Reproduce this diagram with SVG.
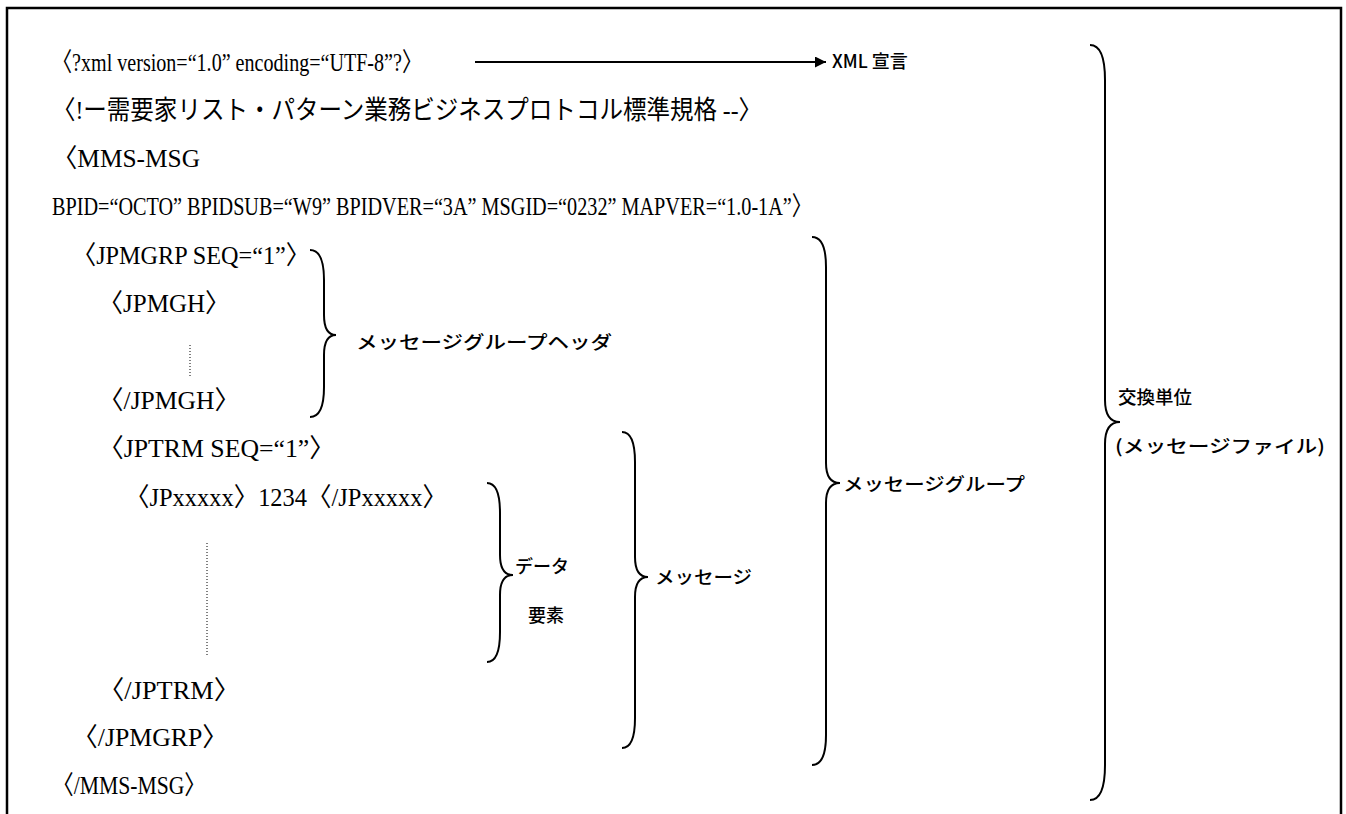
<svg xmlns="http://www.w3.org/2000/svg" width="1346" height="814" viewBox="0 0 1346 814">
<defs>
<style>
.code{font-family:"Liberation Serif","Noto Sans CJK JP",serif;font-size:26px;fill:#000}
.lbl{font-family:"Noto Sans CJK JP","Liberation Sans",sans-serif;font-size:18px;fill:#000;font-weight:500}
.brace{fill:none;stroke:#000;stroke-width:2}
.dot{stroke:#000;stroke-width:1;stroke-dasharray:1 2}
</style>
<marker id="ah" viewBox="0 0 10 10" refX="10" refY="5" markerWidth="6" markerHeight="5.5" orient="auto" markerUnits="strokeWidth"><path d="M0 0L10 5L0 10z" fill="#000"/></marker>
</defs>
<rect width="1346" height="814" fill="#fff"/>
<path id="frame" d="M7 814V8H1341V814" fill="none" stroke="#000" stroke-width="2.5"/>
<g id="code">
<text class="code" x="52" y="71" textLength="370" lengthAdjust="spacingAndGlyphs">〈?xml version=“1.0” encoding=“UTF-8”?〉</text>
<text class="code" x="52" y="119" textLength="710" lengthAdjust="spacingAndGlyphs">〈!ー需要家リスト・パターン業務ビジネスプロトコル標準規格 --〉</text>
<text class="code" x="52" y="167" textLength="148" lengthAdjust="spacingAndGlyphs">〈MMS-MSG</text>
<text class="code" x="52" y="215" textLength="760" lengthAdjust="spacingAndGlyphs">BPID=“OCTO” BPIDSUB=“W9” BPIDVER=“3A” MSGID=“0232” MAPVER=“1.0-1A”〉</text>
<text class="code" x="72" y="264" textLength="238" lengthAdjust="spacingAndGlyphs">〈JPMGRP SEQ=“1”〉</text>
<text class="code" x="98" y="312" textLength="132" lengthAdjust="spacingAndGlyphs">〈JPMGH〉</text>
<text class="code" x="98" y="409" textLength="142" lengthAdjust="spacingAndGlyphs">〈/JPMGH〉</text>
<text class="code" x="98" y="457" textLength="237" lengthAdjust="spacingAndGlyphs">〈JPTRM SEQ=“1”〉</text>
<text class="code" x="125" y="506" textLength="322" lengthAdjust="spacingAndGlyphs">〈JPxxxxx〉1234〈/JPxxxxx〉</text>
<text class="code" x="98" y="699" textLength="142" lengthAdjust="spacingAndGlyphs">〈/JPTRM〉</text>
<text class="code" x="72" y="746" textLength="156" lengthAdjust="spacingAndGlyphs">〈/JPMGRP〉</text>
<text class="code" x="52" y="794" textLength="154" lengthAdjust="spacingAndGlyphs">〈/MMS-MSG〉</text>
<line class="dot" x1="190" y1="345" x2="190" y2="378"/>
<line class="dot" x1="207" y1="543" x2="207" y2="655"/>
</g>
<g id="xml-decl">
<text class="lbl" x="832" y="68">XML 宣言</text>
</g>
<g id="header">
<path class="brace" d="M310 250Q324 250 324 280L324 315Q324 335 336 335Q324 335 324 355L324 387Q324 417 310 417"/>
<text class="lbl" x="356" y="349" textLength="256" lengthAdjust="spacingAndGlyphs">メッセージグループヘッダ</text>
</g>
<g id="data-element">
<path class="brace" d="M487 483Q500 483 500 513L500 555Q500 575 513 575Q500 575 500 595L500 632Q500 662 487 662"/>
<text class="lbl" x="515" y="573">データ</text>
<text class="lbl" x="528" y="622">要素</text>
</g>
<g id="message">
<path class="brace" d="M622 432Q635 432 635 462L635 557Q635 577 648 577Q635 577 635 597L635 718Q635 748 622 748"/>
<text class="lbl" x="655" y="584" textLength="97" lengthAdjust="spacingAndGlyphs">メッセージ</text>
</g>
<g id="message-group">
<path class="brace" d="M812 237Q826 237 826 267L826 463Q826 483 840 483Q826 483 826 503L826 735Q826 765 812 765"/>
<text class="lbl" x="843" y="491" textLength="182" lengthAdjust="spacingAndGlyphs">メッセージグループ</text>
</g>
<g id="exchange-unit">
<path class="brace" d="M1090 45Q1105 45 1105 80L1105 400Q1105 422 1120 422Q1105 422 1105 444L1105 765Q1105 800 1090 800"/>
<text class="lbl" x="1118" y="404" textLength="74" lengthAdjust="spacingAndGlyphs">交換単位</text>
<text class="lbl" x="1115" y="453" textLength="210" lengthAdjust="spacingAndGlyphs">(メッセージファイル)</text>
</g>
<g id="connectors">
<line x1="475" y1="62" x2="826" y2="62" stroke="#000" stroke-width="2" marker-end="url(#ah)"/>
</g>
</svg>
